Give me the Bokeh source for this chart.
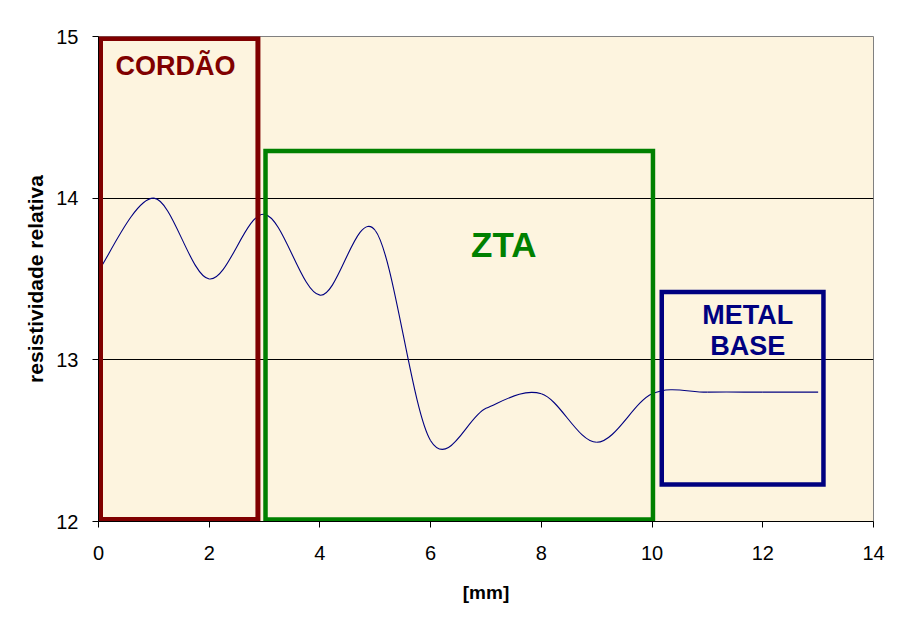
from bokeh.plotting import figure
from bokeh.models import FixedTicker, Range1d
from bokeh.core.properties import value
from bokeh.embed import file_html
from bokeh.resources import INLINE

# --- data ---
pos_mm = [0, 1, 2, 3, 4, 5, 6, 7, 8, 9, 10, 11, 12, 13]
resistividade = [13.55, 14.0, 13.5, 13.9, 13.4, 13.8, 12.5, 12.7, 12.79, 12.49, 12.79, 12.8, 12.8, 12.8]

x_ticks = [0, 2, 4, 6, 8, 10, 12, 14]
y_ticks = [12, 13, 14, 15]

# region boxes (left, right, bottom, top) in data units
box_names = ["CORDÃO", "ZTA", "METAL BASE"]
box_left = [0.036, 3.017, 10.175]
box_right = [2.88, 10.016, 13.096]
box_bottom = [12.012, 12.012, 12.229]
box_top = [14.988, 14.292, 13.42]
box_colors = ["#800000", "#008000", "#000080"]
box_widths = [5, 4.5, 4.5]

# region labels
lab_text = ["CORDÃO", "ZTA", "METAL", "BASE"]
lab_x = [1.39, 7.32, 11.73, 11.73]
lab_y = [14.818, 13.715, 13.277, 13.083]
lab_colors = ["#800000", "#008000", "#000080", "#000080"]
lab_sizes = ["27px", "35px", "27px", "27px"]

p = figure(width=888, height=610, output_backend="svg", toolbar_location=None,
           x_range=Range1d(0, 14), y_range=Range1d(12, 15),
           min_border_left=98, min_border_right=15, min_border_top=36, min_border_bottom=89)

p.background_fill_color = "#FDF4DF"
p.border_fill_color = "white"
p.outline_line_color = "#808080"
p.outline_line_width = 1

# grid
p.xgrid.visible = False
p.ygrid.ticker = FixedTicker(ticks=[13, 14])
p.ygrid.grid_line_color = "black"
p.ygrid.grid_line_width = 1

# axes
p.xaxis.ticker = FixedTicker(ticks=x_ticks)
p.yaxis.ticker = FixedTicker(ticks=y_ticks)
for ax in (p.xaxis[0], p.yaxis[0]):
    ax.axis_line_color = "black"
    ax.axis_line_width = 1
    ax.major_tick_line_color = "black"
    ax.major_tick_out = 6
    ax.major_tick_in = 0
    ax.minor_tick_line_color = None
    ax.major_label_text_font = "Liberation Sans"
    ax.major_label_text_font_size = "20px"
    ax.major_label_text_color = "black"
    ax.axis_label_text_font = "Liberation Sans"
    ax.axis_label_text_font_style = "bold"
    ax.axis_label_text_color = "black"

p.xaxis.axis_label = "[mm]"
p.yaxis.axis_label = "resistividade relativa"
p.xaxis.axis_label_text_font_size = "19px"
p.yaxis.axis_label_text_font_size = "21px"
p.xaxis.major_label_standoff = 18
p.yaxis.major_label_standoff = 14
p.xaxis.axis_label_standoff = 19
p.yaxis.axis_label_standoff = 6

# smoothed line (Excel-style Bezier through the data points)
n = len(pos_mm)
x0s, y0s, x1s, y1s, cx0, cy0, cx1, cy1 = [], [], [], [], [], [], [], []
for i in range(n - 1):
    im1 = max(i - 1, 0)
    ip2 = min(i + 2, n - 1)
    x0s.append(pos_mm[i]); y0s.append(resistividade[i])
    x1s.append(pos_mm[i + 1]); y1s.append(resistividade[i + 1])
    cx0.append(pos_mm[i] + (pos_mm[i + 1] - pos_mm[im1]) / 6)
    cy0.append(resistividade[i] + (resistividade[i + 1] - resistividade[im1]) / 6)
    cx1.append(pos_mm[i + 1] - (pos_mm[ip2] - pos_mm[i]) / 6)
    cy1.append(resistividade[i + 1] - (resistividade[ip2] - resistividade[i]) / 6)
p.bezier(x0=x0s, y0=y0s, x1=x1s, y1=y1s, cx0=cx0, cy0=cy0, cx1=cx1, cy1=cy1,
         line_color="#000080", line_width=1.1)

# boxes
for l, r, b, t, c, w in zip(box_left, box_right, box_bottom, box_top, box_colors, box_widths):
    p.quad(left=[l], right=[r], bottom=[b], top=[t], fill_alpha=0,
           line_color=c, line_width=w, line_join="miter")

# labels
for txt, x, y, c, s in zip(lab_text, lab_x, lab_y, lab_colors, lab_sizes):
    p.text(x=[x], y=[y], text=[txt], text_color=c, text_font=value("Liberation Sans"),
           text_font_style="bold", text_font_size=s, text_align="center",
           text_baseline="middle")

open("out.html", "w").write(file_html(p, INLINE))
